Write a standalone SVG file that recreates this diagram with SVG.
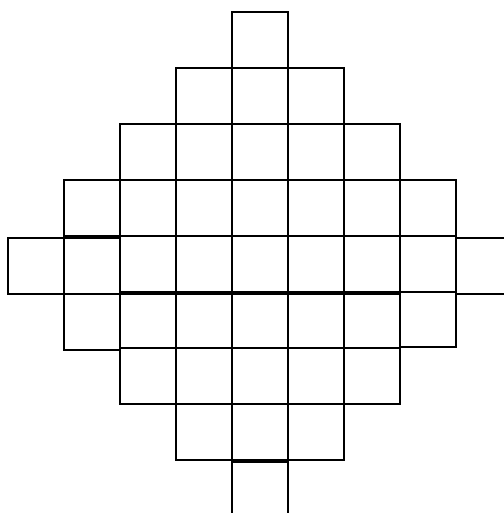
<svg xmlns="http://www.w3.org/2000/svg" width="504" height="513" viewBox="0 0 504 513">
<style>
rect.c{fill:none;stroke:#000;stroke-width:2}
</style>
<rect width="504" height="513" fill="#fff"/>
<g id="row0">
<rect class="c" x="232" y="12" width="56" height="56"/>
</g>
<g id="row1">
<rect class="c" x="176" y="68" width="56" height="56"/>
<rect class="c" x="232" y="68" width="56" height="56"/>
<rect class="c" x="288" y="68" width="56" height="56"/>
</g>
<g id="row2">
<rect class="c" x="120" y="124" width="56" height="56"/>
<rect class="c" x="176" y="124" width="56" height="56"/>
<rect class="c" x="232" y="124" width="56" height="56"/>
<rect class="c" x="288" y="124" width="56" height="56"/>
<rect class="c" x="344" y="124" width="56" height="56"/>
</g>
<g id="row3">
<rect class="c" x="64" y="180" width="56" height="56"/>
<rect class="c" x="120" y="180" width="56" height="56"/>
<rect class="c" x="176" y="180" width="56" height="56"/>
<rect class="c" x="232" y="180" width="56" height="56"/>
<rect class="c" x="288" y="180" width="56" height="56"/>
<rect class="c" x="344" y="180" width="56" height="56"/>
<rect class="c" x="400" y="180" width="56" height="56"/>
</g>
<g id="row4">
<rect class="c" x="8" y="238" width="56" height="56"/>
<rect class="c" x="64" y="238" width="56" height="56"/>
<rect class="c" x="120" y="236" width="56" height="56"/>
<rect class="c" x="176" y="236" width="56" height="56"/>
<rect class="c" x="232" y="236" width="56" height="56"/>
<rect class="c" x="288" y="236" width="56" height="56"/>
<rect class="c" x="344" y="236" width="56" height="56"/>
<rect class="c" x="400" y="236" width="56" height="56"/>
<rect class="c" x="456" y="238" width="56" height="56"/>
</g>
<g id="row5">
<rect class="c" x="64" y="294" width="56" height="56"/>
<rect class="c" x="120" y="294" width="56" height="54"/>
<rect class="c" x="176" y="294" width="56" height="54"/>
<rect class="c" x="232" y="294" width="56" height="54"/>
<rect class="c" x="288" y="294" width="56" height="54"/>
<rect class="c" x="344" y="294" width="56" height="54"/>
<rect class="c" x="400" y="292" width="56" height="55"/>
</g>
<g id="row6">
<rect class="c" x="120" y="348" width="56" height="56"/>
<rect class="c" x="176" y="348" width="56" height="56"/>
<rect class="c" x="232" y="348" width="56" height="56"/>
<rect class="c" x="288" y="348" width="56" height="56"/>
<rect class="c" x="344" y="348" width="56" height="56"/>
</g>
<g id="row7">
<rect class="c" x="176" y="404" width="56" height="56"/>
<rect class="c" x="232" y="404" width="56" height="56"/>
<rect class="c" x="288" y="404" width="56" height="56"/>
</g>
<g id="row8">
<rect class="c" x="232" y="462" width="56" height="56"/>
</g>
<g id="connectors"></g>
</svg>
